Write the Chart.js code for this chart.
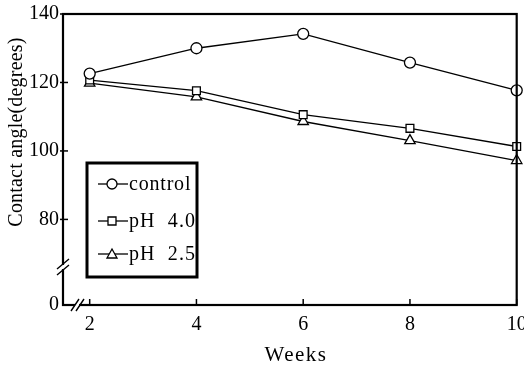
<!DOCTYPE html>
<html>
<head>
<meta charset="utf-8">
<script src="https://cdn.jsdelivr.net/npm/chart.js@4.4.0/dist/chart.umd.min.js"></script>
<style>
  html, body { margin: 0; padding: 0; background: #fff; }
  #wrap { width: 524px; height: 367px; }
</style>
</head>
<body>
<div id="wrap"><canvas id="myChart" width="524" height="367"></canvas></div>
<script>
const weeks = [2, 4, 6, 8, 10];
const control = [122.6, 130, 134.2, 125.8, 117.7];
const ph40 = [120.7, 117.6, 110.6, 106.6, 101.3];
const ph25 = [119.8, 115.8, 108.6, 103, 97.2];
const seriesNames = ['control', 'pH 4.0', 'pH 2.5'];
const yTickLabels = { 55: '0', 80: '80', 100: '100', 120: '120', 140: '140' };

const FONT = '"Liberation Serif", "DejaVu Serif", serif';

function pts(vals) {
    return weeks.map((w, i) => ({ x: w, y: vals[i] }));
}

function markerPath(ctx, style, x, y) {
    ctx.beginPath();
    if (style === 'circle') {
        ctx.arc(x, y, 5, 0, Math.PI * 2);
    } else if (style === 'rect') {
        ctx.rect(x - 4, y - 4, 8, 8);
    } else {
        ctx.moveTo(x, y - 5);
        ctx.lineTo(x + 5, y + 4);
        ctx.lineTo(x - 5, y + 4);
        ctx.closePath();
    }
    ctx.fillStyle = '#fff';
    ctx.fill();
    ctx.strokeStyle = '#000';
    ctx.lineWidth = 1.3;
    ctx.stroke();
}

const decor = {
    id: 'decor',
    afterDraw(chart) {
        const ctx = chart.ctx;
        const a = chart.chartArea;
        const xs = chart.scales.x, ys = chart.scales.y;
        ctx.save();
        // frame
        ctx.strokeStyle = '#000';
        ctx.lineWidth = 2.2;
        ctx.strokeRect(a.left, a.top, a.right - a.left, a.bottom - a.top);
        // y ticks
        ctx.lineWidth = 1.5;
        [80, 100, 120, 140].forEach(v => {
            const y = ys.getPixelForValue(v);
            ctx.beginPath();
            ctx.moveTo(a.left - 3, y);
            ctx.lineTo(a.left + 5, y);
            ctx.stroke();
        });
        // x ticks (inward)
        weeks.forEach(w => {
            const x = xs.getPixelForValue(w);
            ctx.beginPath();
            ctx.moveTo(x, a.bottom);
            ctx.lineTo(x, a.bottom - 6);
            ctx.stroke();
        });
        // axis breaks
        ctx.fillStyle = '#fff';
        const by = 267;
        ctx.fillRect(a.left - 3, by - 2, 6, 4);
        ctx.lineWidth = 1.4;
        ctx.beginPath();
        ctx.moveTo(a.left - 6, by + 2); ctx.lineTo(a.left + 6, by - 8);
        ctx.moveTo(a.left - 6, by + 8); ctx.lineTo(a.left + 6, by - 2);
        ctx.stroke();
        const bx = 77;
        ctx.fillRect(bx - 2, a.bottom - 3, 4, 6);
        ctx.beginPath();
        ctx.moveTo(bx - 6, a.bottom + 6); ctx.lineTo(bx + 2, a.bottom - 6);
        ctx.moveTo(bx - 1, a.bottom + 6); ctx.lineTo(bx + 7, a.bottom - 6);
        ctx.stroke();
        // axis titles
        ctx.fillStyle = '#000';
        ctx.font = '21px ' + FONT;
        ctx.textAlign = 'center';
        ctx.textBaseline = 'middle';
        ctx.letterSpacing = '1.5px';
        ctx.fillText('Weeks', 296, 355);
        ctx.font = '20px ' + FONT;
        ctx.letterSpacing = '0.2px';
        ctx.save();
        ctx.translate(17, 132);
        ctx.rotate(-Math.PI / 2);
        ctx.fillText('Contact angle(degrees)', 0, 0);
        ctx.restore();
        // legend box
        ctx.letterSpacing = '0px';
        ctx.lineWidth = 3;
        ctx.strokeRect(87, 163, 110, 114);
        const styles = ['circle', 'rect', 'triangle'];
        const rows = [184, 221, 254];
        ctx.textAlign = 'left';
        ctx.font = '20px ' + FONT;
        seriesNames.forEach((name, i) => {
            const y = rows[i];
            ctx.lineWidth = 1.3;
            ctx.beginPath();
            ctx.moveTo(98, y);
            ctx.lineTo(128, y);
            ctx.stroke();
            markerPath(ctx, styles[i], 112, y);
            ctx.fillStyle = '#000';
            ctx.letterSpacing = i === 0 ? '0.8px' : '1.1px';
            ctx.fillText(i === 0 ? name : name.replace(' ', '  '), 129, y + 1);
        });
        ctx.restore();
    }
};

const ctx = document.getElementById('myChart').getContext('2d');

new Chart(ctx, {
    type: 'line',
    data: {
        datasets: [
            { label: seriesNames[0], data: pts(control), pointStyle: 'circle', pointRadius: 5.5 },
            { label: seriesNames[1], data: pts(ph40), pointStyle: 'rect', pointRadius: 5.5 },
            { label: seriesNames[2], data: pts(ph25), pointStyle: 'triangle', pointRadius: 6 }
        ].map(d => Object.assign(d, {
            borderColor: '#000',
            borderWidth: 1.3,
            pointBackgroundColor: '#fff',
            pointBorderColor: '#000',
            pointBorderWidth: 1.3,
            tension: 0,
            clip: false
        }))
    },
    options: {
        responsive: false,
        animation: false,
        layout: { padding: { top: 14, right: 6, left: 0, bottom: 0 } },
        scales: {
            x: {
                type: 'linear',
                min: 1.5,
                max: 10,
                afterBuildTicks: (s) => { s.ticks = weeks.map(v => ({ value: v })); },
                afterFit: (s) => { s.height = 62; s.paddingLeft = 0; s.paddingRight = 0; },
                grid: { display: false, drawTicks: false },
                border: { display: false },
                ticks: { color: '#000', font: { family: FONT, size: 20 }, padding: 8, maxRotation: 0 }
            },
            y: {
                min: 55,
                max: 140,
                afterBuildTicks: (s) => { s.ticks = [55, 80, 100, 120, 140].map(v => ({ value: v })); },
                afterFit: (s) => { s.width = 63; s.paddingTop = 0; s.paddingBottom = 0; },
                grid: { display: false, drawTicks: false },
                border: { display: false },
                ticks: {
                    color: '#000',
                    font: { family: FONT, size: 20 },
                    padding: 4,
                    callback: (v) => yTickLabels[v]
                }
            }
        },
        plugins: {
            legend: { display: false },
            tooltip: { enabled: false }
        }
    },
    plugins: [decor]
});
</script>
</body>
</html>
